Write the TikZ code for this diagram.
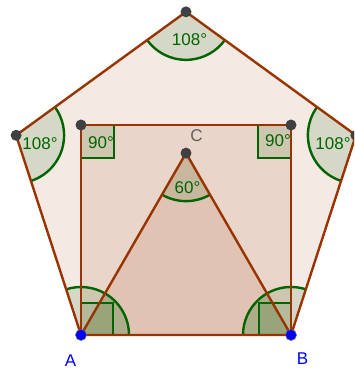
\documentclass[tikz,border=0pt]{standalone}
\usepackage{fontspec}
\setmainfont{Liberation Sans}
\definecolor{brownc}{RGB}{153,51,0}
\definecolor{greenc}{RGB}{0,100,0}
\definecolor{dotc}{RGB}{64,64,64}
\definecolor{labgray}{RGB}{95,95,95}
\definecolor{bluec}{RGB}{0,0,255}
\newcommand\angsector[3]{%
  \fill[angfill] (#1) -- ([shift={(#2:48pt)}]#1) arc[start angle=#2,end angle=#3,radius=48pt] -- cycle;
  \draw[angarc] ([shift={(#2:48pt)}]#1) arc[start angle=#2,end angle=#3,radius=48pt];}
\newcommand\angfillonly[3]{%
  \fill[angfill] (#1) -- ([shift={(#2:48pt)}]#1) arc[start angle=#2,end angle=#3,radius=48pt] -- cycle;}
\begin{document}
\begin{tikzpicture}[x=1pt,y=1pt,
  edge/.style={draw=brownc,line width=2.4pt,line join=round},
  poly/.style={fill=brownc,fill opacity=0.11},
  angfill/.style={fill=greenc,fill opacity=0.12},
  angarc/.style={draw=greenc,line width=2.4pt},
  rmark/.style={draw=greenc,line width=2pt,fill=greenc,fill opacity=0.12},
  dot/.style={circle,fill=dotc,inner sep=0pt,minimum size=11pt},
  bdot/.style={circle,fill=bluec,draw=black!60,line width=0.5pt,inner sep=0pt,minimum size=11pt},
  alab/.style={text=greenc,font=\fontsize{17}{17}\selectfont,inner sep=0pt},
  plab/.style={font=\fontsize{17}{17}\selectfont,inner sep=0pt}]
\useasboundingbox (0,0) rectangle (354,369);
\clip (0,0) rectangle (354,369);
\coordinate (A) at (81,34);
\coordinate (B) at (291,34);
\coordinate (R) at (355.89,233.72);
\coordinate (T) at (186,357.15);
\coordinate (L) at (16.11,233.72);
\coordinate (D) at (291,244);
\coordinate (E) at (81,244);
\coordinate (C) at (186,215.87);
% polygon fills
\path[poly] (A)--(B)--(R)--(T)--(L)--cycle;
\path[poly] (A)--(B)--(D)--(E)--cycle;
\path[poly] (A)--(B)--(C)--cycle;
% angles
\angsector{T}{216}{324}
\angsector{L}{-72}{36}
\angsector{R}{144}{252}
\angsector{A}{0}{108}
\angsector{B}{72}{180}
\angsector{C}{240}{300}
\angfillonly{A}{0}{60}
\angfillonly{B}{120}{180}
\draw[rmark] (A) rectangle ++(32,32);
\draw[rmark] (B) rectangle ++(-32,32);
\draw[rmark] (E) rectangle ++(33,-33);
\draw[rmark] (D) rectangle ++(-33,-33);
% edges
\draw[edge] (A)--(B)--(R)--(T)--(L)--cycle;
\draw[edge] (A)--(E)--(D)--(B);
\draw[edge] (A)--(C)--(B);
% points
\node[dot] (pT) at (T) {};
\node[dot] (pL) at (L) {};
\node[dot] (pR) at (R) {};
\node[dot] (pD) at (D) {};
\node[dot] (pE) at (E) {};
\node[dot] (pC) at (C) {};
\node[bdot] (pA) at (A) {};
\node[bdot] (pB) at (B) {};
% point labels
\node[plab,text=bluec] (lA) at (70.5,8.5) {A};
\node[plab,text=bluec] (lB) at (302.5,10.5) {B};
\node[plab,text=labgray] (lC) at (196.5,233) {C};
% angle labels
\node[alab] (aT) at (189.5,329.5) {108°};
\node[alab] (aL) at (40,225.5) {108°};
\node[alab] (aR) at (333,225.5) {108°};
\node[alab] (aE) at (101,226.5) {90°};
\node[alab] (aD) at (278,228) {90°};
\node[alab] (aC) at (187.5,181.5) {60°};
\end{tikzpicture}
\end{document}
